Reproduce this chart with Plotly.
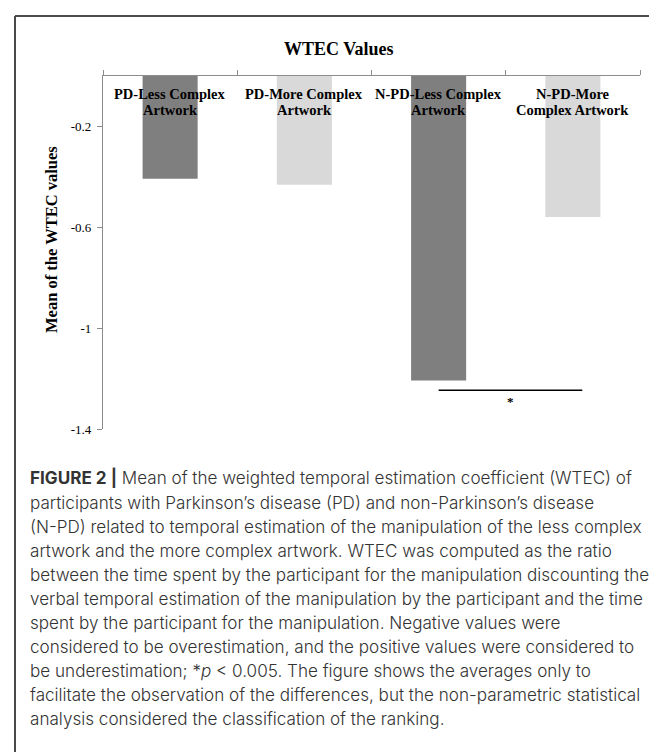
import plotly.graph_objects as go

# ---- data ----
categories = [["PD-Less Complex", "Artwork"], ["PD-More Complex", "Artwork"],
              ["N-PD-Less Complex", "Artwork"], ["N-PD-More", "Complex Artwork"]]
wtec_means = [-0.408, -0.431, -1.208, -0.559]
bar_colors = ["#7f7f7f", "#d9d9d9", "#7f7f7f", "#d9d9d9"]
y_ticks = [-0.2, -0.6, -1.0, -1.4]
y_ticktext = ["-0.2", "-0.6", "-1", "-1.4"]
sig_level = -1.246
sig_x = [2.0, 3.07]
sig_star_y = -1.29

caption_lines = [
    "<b>FIGURE 2 |</b> Mean of the weighted temporal estimation coefficient (WTEC) of",
    "participants with Parkinson’s disease (PD) and non-Parkinson’s disease",
    "(N-PD) related to temporal estimation of the manipulation of the less complex",
    "artwork and the more complex artwork. WTEC was computed as the ratio",
    "between the time spent by the participant for the manipulation discounting the",
    "verbal temporal estimation of the manipulation by the participant and the time",
    "spent by the participant for the manipulation. Negative values were",
    "considered to be overestimation, and the positive values were considered to",
    "be underestimation; *<i>p</i> &lt; 0.005. The figure shows the averages only to",
    "facilitate the observation of the differences, but the non-parametric statistical",
    "analysis considered the classification of the ranking.",
]

W, H = 657, 752
PL, PR, PT, PB = 95, 632, 68, 421


def px(x):
    return (x - PL) / (PR - PL)


def py(y):
    return (PB - y) / (PB - PT)


xs = list(range(len(categories)))
serif = "Liberation Serif"

fig = go.Figure()
fig.add_trace(go.Bar(x=xs, y=wtec_means, marker_color=bar_colors,
                     marker_line_width=0, width=0.41))

fig.update_layout(
    width=W, height=H,
    margin=dict(l=PL, r=W - PR, t=PT, b=H - PB),
    paper_bgcolor="white", plot_bgcolor="white",
    showlegend=False,
    font=dict(family=serif, color="black"),
)
fig.update_xaxes(range=[-0.5, len(categories) - 0.5], side="top",
                 showline=True, linecolor="#8c8c8c", linewidth=1.3,
                 tickmode="array",
                 tickvals=[i - 0.5 for i in range(len(categories) + 1)],
                 ticks="outside", ticklen=5, tickcolor="#8c8c8c",
                 showticklabels=False, showgrid=False, zeroline=False)
fig.update_yaxes(range=[-1.4, 0], showline=True, linecolor="#8c8c8c",
                 linewidth=1.3, tickmode="array", tickvals=y_ticks,
                 ticktext=y_ticktext, ticks="outside", ticklen=5,
                 tickcolor="#8c8c8c", tickfont=dict(family=serif, size=13),
                 ticklabelstandoff=3,
                 showgrid=False, zeroline=False)

ann = []
# chart title
ann.append(dict(text="<b>WTEC Values</b>", xref="paper", yref="paper",
                x=px(331), y=py(41), showarrow=False,
                font=dict(family=serif, size=18), xanchor="center",
                yanchor="middle"))
# y-axis title
ann.append(dict(text="<b>Mean of the WTEC values</b>", xref="paper",
                yref="paper", x=px(43), y=py(232), textangle=-90,
                showarrow=False, font=dict(family=serif, size=16.5),
                xanchor="center", yanchor="middle"))
# category labels (two lines each)
for i, lines in enumerate(categories):
    for j, part in enumerate(lines):
        ann.append(dict(text="<b>" + part + "</b>", x=i, xref="x",
                        yref="paper", y=py(86 + 16 * j), yanchor="middle",
                        xanchor="center", showarrow=False,
                        font=dict(family=serif, size=14.5)))
# significance star
ann.append(dict(text="<b>*</b>", x=sum(sig_x) / 2, y=sig_star_y, xref="x",
                yref="y", showarrow=False, font=dict(family=serif, size=13)))
# caption
for k, line in enumerate(caption_lines):
    ann.append(dict(text=line, xref="paper", yref="paper", x=px(20),
                    y=py(470 + 24 * k), xanchor="left", yanchor="middle",
                    showarrow=False, align="left",
                    font=dict(family="Inter", size=17.1, weight=300,
                              color="#333333")))
fig.update_layout(annotations=ann)

# significance line
fig.add_shape(type="line", xref="x", yref="y", x0=sig_x[0], x1=sig_x[1],
              y0=sig_level, y1=sig_level, line=dict(color="black", width=1.5))
# frame
fig.add_shape(type="line", xref="paper", yref="paper", x0=px(7), x1=px(657),
              y0=py(8), y1=py(8), line=dict(color="#4a4a4a", width=2))
fig.add_shape(type="line", xref="paper", yref="paper", x0=px(7), x1=px(7),
              y0=py(8), y1=py(752), line=dict(color="#4a4a4a", width=2))

fig.write_html("out.html")
